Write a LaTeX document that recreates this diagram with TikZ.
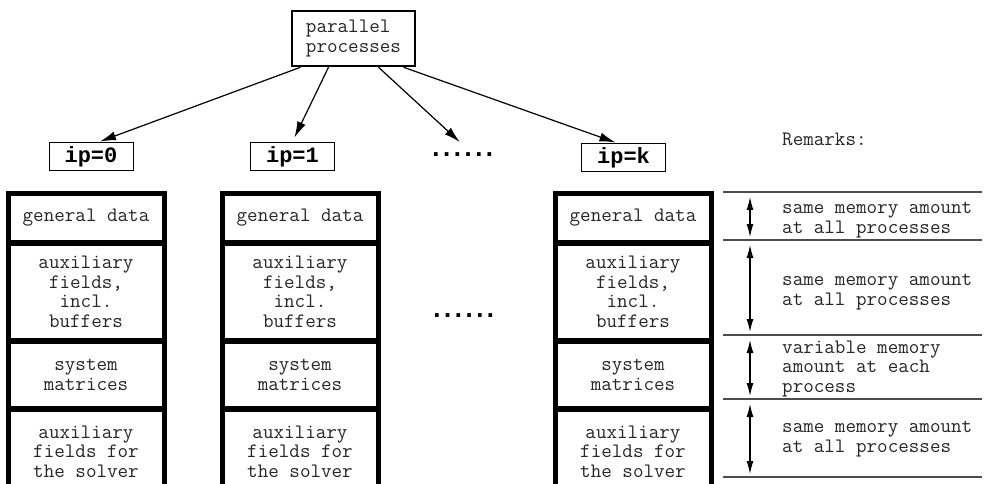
\documentclass[tikz,border=0pt]{standalone}
\usepackage{fontspec}
\newfontfamily\boldmono{Liberation Mono}
\usetikzlibrary{arrows.meta,calc}
% six bold full stops, set closer than the font's own advance
\newcommand\elide{.\kern-4.9pt.\kern-4.9pt.\kern-4.9pt.\kern-4.9pt.\kern-4.9pt.}
\begin{document}
\begin{tikzpicture}[x=1pt,y=-1pt,
  txt/.style={font=\ttfamily\fontsize{20.5}{19.5}\selectfont, text=black!85},
  cell/.style={txt, draw, line width=3, minimum width=154, inner sep=0, align=center, anchor=north},
  frame/.style={line width=4},
  ipbox/.style={draw, line width=1, minimum width=84, minimum height=28, inner sep=0,
                font=\boldmono\bfseries\fontsize{22}{24}\selectfont},
  dots/.style={font=\boldmono\bfseries\fontsize{26}{26}\selectfont, inner sep=0},
  ptr/.style={line width=1.2, -{Latex[length=16,width=9]}},
  rule/.style={line width=1.4, draw=black!70},
  span/.style={line width=1.2, {Latex[length=13,width=7]}-{Latex[length=13,width=7]}},
  note/.style={txt, anchor=west, align=left, inner sep=0}]
\useasboundingbox (0,0) rectangle (986,484);

% root of the process tree
\node[txt, draw, line width=2.5, minimum width=123, minimum height=55, align=left, inner sep=0]
  (pp) at (353.5,38.5) {parallel\\processes};

% process labels
\node[ipbox] (ip0) at (91,157) {ip=0};
\node[ipbox] (ip1) at (292.5,157) {ip=1};
\node[dots, anchor=base west] (dt) at (428,157) {\elide};
\node[ipbox] (ipk) at (623.5,158) {ip=k};

\coordinate (dtop) at ($(dt.base)+(-3,-15)$);
\draw[ptr] ($(pp.south)+(-53,0)$) -- ($(ip0.north)+(9,-1)$);
\draw[ptr] ($(pp.south)+(-25,0)$) -- ($(ip1.north)+(2,-5)$);
\draw[ptr] ($(pp.south)+(25,0)$)  -- (dtop);
\draw[ptr] ($(pp.south)+(50,0)$)  -- ($(ipk.north)+(-8,-1)$);

% memory layout of each process
\foreach \c/\cx in {a/86, b/300, c/633}{
  \node[cell, minimum height=47] (g\c) at (\cx,193) {general data};
  \node[cell, minimum height=95] (f\c) at (g\c.south) {auxiliary\\fields,\\incl.\\buffers};
  \node[cell, minimum height=65] (m\c) at (f\c.south) {system\\matrices};
  \node[cell, minimum height=82] (s\c) at (m\c.south) {auxiliary\\fields for\\the solver};
  \draw[frame] (g\c.north west) rectangle (s\c.south east);
}

\node[dots, anchor=base west] (dm) at (429,317) {\elide};

% remarks column
\node[txt, anchor=west, inner sep=0] (rem) at (782,139) {Remarks:};
\foreach \i/\y in {1/192, 2/240, 3/335, 4/399, 5/477}{
  \coordinate (l\i) at (723,\y);
  \coordinate (r\i) at (982,\y);
  \draw[rule] (l\i) -- (r\i);
}
\foreach \i/\j in {1/2, 2/3, 3/4, 4/5}{
  \draw[span, shorten <=5, shorten >=3] ($(l\i)+(27,0)$) -- ($(l\j)+(27,0)$);
}

\node[note] (n1) at (782,220) {same memory amount\\at all processes};
\node[note] (n2) at (782,292) {same memory amount\\at all processes};
\node[note] (n3) at (782,369) {variable memory\\amount at each\\process};
\node[note] (n4) at (782,439) {same memory amount\\at all processes};
\end{tikzpicture}
\end{document}
